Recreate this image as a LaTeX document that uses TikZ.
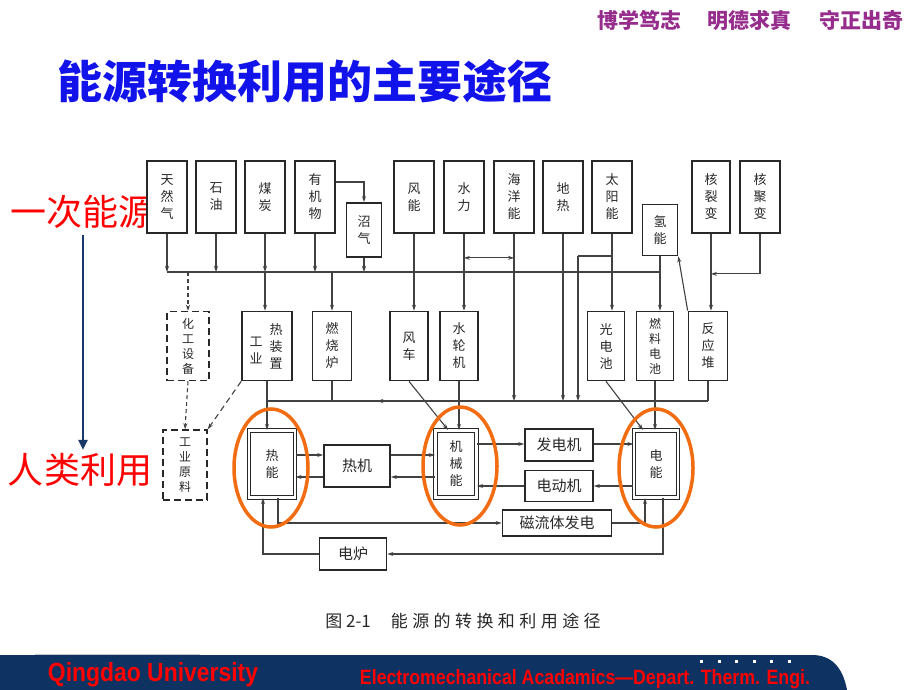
\documentclass[tikz,border=0pt]{standalone}
\usepackage{graphicx}
\usepackage{fontspec}
\setmainfont{Liberation Sans}
\newfontfamily\cjk{Noto Sans CJK SC}
\usetikzlibrary{arrows.meta, positioning, calc, decorations.markings}

\definecolor{linegray}{RGB}{65,65,65}
\definecolor{boxgray}{RGB}{40,40,40}
\definecolor{txtgray}{RGB}{40,40,40}
\definecolor{ringorange}{RGB}{242,108,18}
\definecolor{titleblue}{RGB}{18,18,235}
\definecolor{mottopurple}{RGB}{150,45,140}
\definecolor{footnavy}{RGB}{14,50,98}
\definecolor{arrownavy}{RGB}{25,55,105}

\tikzset{
  src/.style={draw=boxgray, line width=1.7pt, fill=white, inner sep=0pt,
    minimum width=40pt, minimum height=72pt, text=txtgray, align=center,
    font=\cjk\fontsize{13}{17}\selectfont},
  dev/.style={src, minimum height=69pt},
  four/.style={font=\cjk\fontsize{12}{15}\selectfont},
  core/.style={src, double=white, double distance=2.5pt, line width=1.2pt, minimum height=67pt},
  hbox/.style={src, minimum height=32pt, font=\cjk\fontsize{15}{17}\selectfont},
  dbox/.style={src, dash pattern=on 7pt off 4pt, line width=1.5pt},
  vtxt/.style={inner sep=0pt, text=txtgray, align=center, font=\cjk\fontsize{13}{17}\selectfont},
  link/.style={draw=linegray, line width=1.1pt},
  flow/.style={link, -{Stealth[length=6pt,width=4pt]}},
  both/.style={link, {Stealth[length=6pt,width=4pt]}-{Stealth[length=6pt,width=4pt]}},
  midarr/.style={link, postaction={decorate}, decoration={markings,
    mark=at position #1 with {\arrow{Stealth[length=6pt,width=4pt]}}}},
  ring/.style={draw=ringorange, line width=3.5pt},
}

\begin{document}
\begin{tikzpicture}[x=1pt,y=-1pt]
\useasboundingbox (0,0) rectangle (920,690);
\fill[white] (0,0) rectangle (920,690);

% heading
\node[text=mottopurple, font=\cjk\bfseries\fontsize{21}{21}\selectfont] (motto) at (750,21)
  {博学笃志\hspace{27pt}明德求真\hspace{27pt}守正出奇};
\node[text=titleblue, font=\cjk\bfseries\fontsize{45}{45}\selectfont] (title) at (305,81)
  {能源转换利用的主要途径};

% left labels
\node[text=red, font=\cjk\fontsize{36}{36}\selectfont] (prim) at (82,212) {一次能源};
\node[text=red, font=\cjk\fontsize{36}{36}\selectfont] (hum) at (80,470) {人类利用};
\draw[arrownavy, line width=2.6pt, -{Triangle[length=10pt,width=9pt]}]
  ([xshift=1pt,yshift=-3pt]prim.south) -- ([xshift=1pt]prim.south |- hum.north);

% primary sources
\node[src] (tr) at (167,197) {天\\然\\气};
\node[src] (sy) at (216,197) {石\\油};
\node[src] (mt) at (265,197) {煤\\炭};
\node[src] (yjw) at (315,197) {有\\机\\物};
\node[src, minimum width=35pt, minimum height=54pt] (zq) at (364,230) {沼\\气};
\node[src] (fn) at (414,197) {风\\能};
\node[src] (sl) at (464,197) {水\\力};
\node[src] (hy) at (514,197) {海\\洋\\能};
\node[src] (dr) at (563,197) {地\\热};
\node[src] (ty) at (612,197) {太\\阳\\能};
\node[src, minimum width=35pt, minimum height=51pt] (qn) at (660,230) {氢\\能};
\node[src, minimum width=38pt] (hl) at (711,197) {核\\裂\\变};
\node[src] (hj) at (760,197) {核\\聚\\变};

% devices
\node[dbox, four, minimum width=42pt, minimum height=69pt] (hg) at (188,346) {化\\工\\设\\备};
\node[dev, minimum width=50pt] (gr) at (267,346) {};
\node[vtxt] (gra) at ($(gr)+(-11,4)$) {工\\业};
\node[vtxt] (grb) at ($(gr)+(9,0)$) {热\\装\\置};
\node[dev, minimum width=39pt] (rs) at (332,346) {燃\\烧\\炉};
\node[dev, minimum width=38pt] (fc) at (409,346) {风\\车};
\node[dev, minimum width=38pt] (slj) at (459,346) {水\\轮\\机};
\node[dev, minimum width=37pt] (gd) at (606,346) {光\\电\\池};
\node[dev, four, minimum width=37pt] (rl) at (655,346) {燃\\料\\电\\池};
\node[dev, minimum width=39pt] (fy) at (708,346) {反\\应\\堆};

% energy forms
\node[dbox, four, minimum width=44pt, minimum height=70pt] (gyyl) at (185,465) {工\\业\\原\\料};
\node[core, minimum width=46pt] (rn) at (272,464) {热\\能};
\node[hbox, minimum width=66pt, minimum height=42pt] (rj) at (357,466) {热机};
\node[core, minimum width=41pt] (jx) at (456,464) {机\\械\\能};
\node[hbox, minimum width=68pt] (fdj) at (559,445) {发电机};
\node[hbox, minimum width=68pt, minimum height=31pt] (ddj) at (559,486) {电动机};
\node[core, minimum width=44pt] (dn) at (656,464) {电\\能};
\node[hbox, minimum width=109pt, minimum height=26pt] (clt) at (557,523) {磁流体发电};
\node[hbox, minimum width=67pt] (dl) at (353,554) {电炉};

% upper bus
\coordinate (busL) at (167,272);
\coordinate (busR) at (661,272);
\draw[link] (busL) -- (busR);
\foreach \s in {tr,sy,mt,yjw,zq}
  \draw[flow] (\s.south) -- (\s.south |- busL);
\draw[flow] ([yshift=15pt]yjw.east) -| (zq.north);
\draw[flow] (mt.south |- busL) -- (mt.south |- gr.north);
\draw[flow, dash pattern=on 4pt off 3pt] (hg.north |- busL) -- (hg.north);
\draw[flow] (rs.north |- busL) -- (rs.north);
\draw[flow] (fn.south) -- (fn.south |- fc.north);
\draw[flow] (sl.south) -- (sl.south |- slj.north);
\draw[both] ($(sl.south)+(0,24)$) -- ($(hy.south)+(0,24)$);
\draw[flow] (ty.south) -- (ty.south |- gd.north);
\draw[flow] (qn.south) -- (qn.south |- rl.north);
\draw[flow] (fy.north west) -- (qn.south east);
\draw[flow] (hl.south) -- (hl.south |- fy.north);
\draw[flow] (hj.south) |- ($(hl.south)+(0,40)$);

% lower bus (heat)
\coordinate (lowL) at (267,401);
\coordinate (lowR) at (708,401);
\coordinate (solar) at (578,256);
\draw[midarr=0.75] (lowR) -- (lowL);
\draw[link] (fy.south) -- (lowR);
\draw[link] (rs.south) -- (rs.south |- lowL);
\draw[link] (gr.south) -- (lowL);
\draw[flow] (lowL) -- (lowL |- rn.north);
\foreach \s in {hy,dr}
  \draw[flow] (\s.south) -- (\s.south |- lowR);
\draw[link] (ty.south |- solar) -- (solar);
\draw[flow] (solar) -- (solar |- lowR);

% devices to energy forms
\draw[flow] (fc.south) -- ([xshift=-8pt]jx.north);
\draw[flow] (slj.south) -- (slj.south |- jx.north);
\draw[flow] (gd.south) -- ([xshift=-13pt]dn.north);
\draw[flow] (rl.south) -- (rl.south |- dn.north);
\draw[flow, dash pattern=on 4pt off 3pt] (hg.south) -- (gyyl.north);
\draw[flow, dash pattern=on 6pt off 4pt] (gr.south west) -- (gyyl.north east);

% conversions
\coordinate (up) at (0,455);
\coordinate (lo) at (0,477);
\coordinate (ge) at (0,444);
\coordinate (mo) at (0,486);
\draw[flow] (rn.east |- up) -- (rj.west |- up);
\draw[flow] (rj.west |- lo) -- (rn.east |- lo);
\draw[flow] (rj.east |- up) -- (jx.west |- up);
\draw[flow] (jx.west |- lo) -- (rj.east |- lo);
\draw[flow] (jx.east |- ge) -- (fdj.west |- ge);
\draw[flow] (fdj.east |- ge) -- (dn.west |- ge);
\draw[flow] (dn.west |- mo) -- (ddj.east |- mo);
\draw[flow] (ddj.west |- mo) -- (jx.east |- mo);
\draw[flow] ([xshift=6pt]rn.south) |- (clt.west);
\draw[flow] (clt.east) -| ([xshift=-11pt]dn.south);
\draw[flow] ([xshift=7pt]dn.south) |- (dl.east);
\draw[flow] (dl.west) -| ([xshift=-9pt]rn.south);

% highlight rings
\draw[ring] (271,468) ellipse [x radius=37, y radius=59];
\draw[ring] (460,466) ellipse [x radius=37, y radius=59];
\draw[ring] (656,468) ellipse [x radius=37, y radius=59];

% caption
\node[text=txtgray, font=\cjk\fontsize{17}{17}\selectfont] (cap) at (463,621)
  {图 2-1\hspace{20pt}{\addfontfeatures{LetterSpace=26}能源的转换和利用途径}};

% footer
\draw[gray!45, line width=1pt] (35,654) -- (200,654);
\fill[footnavy] (0,655) -- (812,655) .. controls (832,655) and (843,668) .. (847,690) -- (0,690) -- cycle;
\foreach \i in {0,...,5}
  \fill[white] ({700+17.6*\i},660) rectangle ++(3,3);
\node[text=red, inner sep=0pt, font=\bfseries] (uni) at (153,675) {\resizebox{210pt}{19pt}{Qingdao University}};
\node[text=red, inner sep=0pt, font=\bfseries] (dept) at (585,679)
  {\resizebox{450pt}{15pt}{Electromechanical Acadamics---Depart. Therm. Engi.}};
\end{tikzpicture}
\end{document}
